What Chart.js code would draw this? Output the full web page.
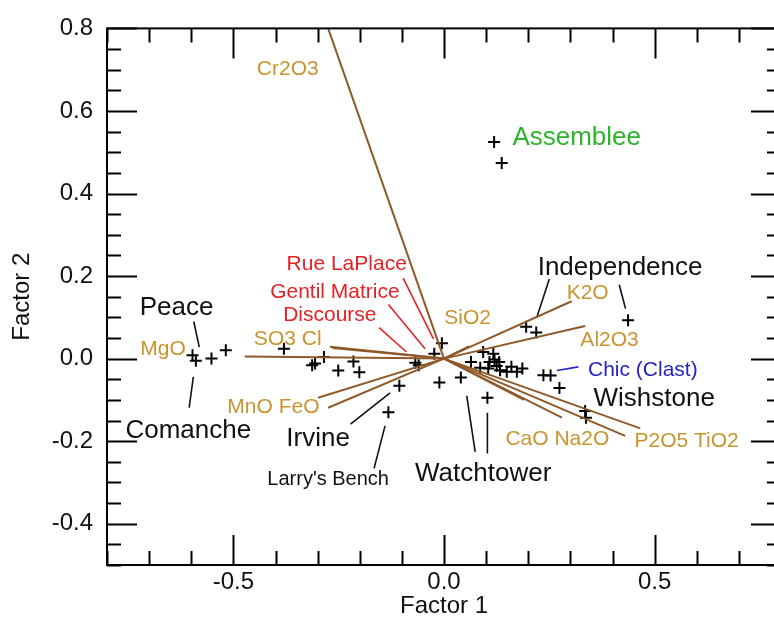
<!DOCTYPE html>
<html>
<head>
<meta charset="utf-8">
<script src="https://cdn.jsdelivr.net/npm/chart.js@4.4.1/dist/chart.umd.min.js"></script>
<style>
  html, body { margin: 0; padding: 0; background: #fff; overflow: hidden; }
  #wrap { width: 800px; height: 622px; }
</style>
</head>
<body>
<div id="wrap"><canvas id="biplot" width="800" height="622"></canvas></div>
<script>
// sample scores (Factor 1, Factor 2)
const sampleX = [-0.597, -0.589, -0.552, -0.518, -0.380, -0.313, -0.306, -0.285, -0.251, -0.215,
  -0.201, -0.068, -0.060, -0.106, -0.132, -0.005, -0.023, -0.011, 0.040, 0.064,
  0.093, 0.117, 0.108, 0.131, 0.086, 0.105, 0.133, 0.149, 0.173, 0.186,
  0.120, 0.125, 0.160, 0.103, 0.236, 0.253, 0.274, 0.335, 0.337, 0.195,
  0.219, 0.437, 0.119, 0.137];
const sampleY = [0.008, -0.005, 0.000, 0.020, 0.024, -0.016, -0.012, 0.004, -0.029, -0.007,
  -0.033, -0.010, -0.016, -0.066, -0.130, 0.037, 0.012, -0.058, -0.046, -0.008,
  0.016, 0.012, -0.008, -0.008, -0.022, -0.024, -0.028, -0.032, -0.032, -0.024,
  -0.002, -0.018, -0.020, -0.095, -0.040, -0.041, -0.071, -0.127, -0.143, 0.077,
  0.063, 0.093, 0.525, 0.474];

// oxide loadings
const oxides   = ['Cr2O3', 'MgO', 'SO3', 'Cl', 'MnO', 'FeO', 'SiO2', 'K2O', 'Al2O3', 'CaO', 'Na2O', 'P2O5', 'TiO2'];
const loadingX = [-0.275, -0.473, -0.271, -0.265, -0.299, -0.275, 0.060, 0.303, 0.335, 0.190, 0.280, 0.430, 0.466];
const loadingY = [0.800, 0.005, 0.029, 0.026, -0.095, -0.119, 0.030, 0.139, 0.079, -0.100, -0.143, -0.187, -0.169];

// tick values
const xMajorTicks = [-0.5, 0.0, 0.5];
const yMajorTicks = [-0.4, -0.2, 0.0, 0.2, 0.4, 0.6, 0.8];

const GOLD = '#c8942e', RED = '#e42226', GREEN = '#2cb52c', BLUE = '#2424c4', BLACK = '#111';
const VEC = '#8f5a2a';
const FONT = "'Liberation Sans', Arial, Helvetica, sans-serif";

// leader lines from labels to their samples
const leaders = [
  { c: BLACK, p: [[-0.594, 0.090], [-0.581, 0.028]] },   // Peace
  { c: BLACK, p: [[-0.595, -0.044], [-0.605, -0.119]] }, // Comanche
  { c: BLACK, p: [[-0.128, -0.083], [-0.222, -0.159]] }, // Irvine
  { c: BLACK, p: [[-0.140, -0.163], [-0.166, -0.266]] }, // Larry's Bench
  { c: BLACK, p: [[0.054, -0.090], [0.074, -0.226]] },   // Watchtower
  { c: BLACK, p: [[0.103, -0.131], [0.103, -0.230]] },
  { c: BLACK, p: [[0.250, 0.193], [0.220, 0.099]] },     // Independence
  { c: BLACK, p: [[0.416, 0.179], [0.431, 0.121]] },
  { c: BLUE,  p: [[0.268, -0.029], [0.319, -0.020]] },   // Chic
  { c: RED,   p: [[-0.097, 0.195], [-0.025, 0.048]] },   // Rue LaPlace
  { c: RED,   p: [[-0.132, 0.131], [-0.045, 0.024]] },   // Gentil Matrice
  { c: RED,   p: [[-0.154, 0.075], [-0.089, 0.016]] }    // Discourse
];

const labels = [
  { t: 'Cr2O3', x: -0.371, y: 0.702, c: GOLD, s: 21 },
  { t: 'Assemblee', x: 0.315, y: 0.534, c: GREEN, s: 26 },
  { t: 'Independence', x: 0.418, y: 0.220, c: BLACK, s: 26 },
  { t: 'K2O', x: 0.341, y: 0.159, c: GOLD, s: 21 },
  { t: 'Al2O3', x: 0.393, y: 0.045, c: GOLD, s: 21 },
  { t: 'SiO2', x: 0.056, y: 0.099, c: GOLD, s: 21 },
  { t: 'Chic (Clast)', x: 0.472, y: -0.028, c: BLUE, s: 21 },
  { t: 'Wishstone', x: 0.499, y: -0.098, c: BLACK, s: 26 },
  { t: 'P2O5 TiO2', x: 0.576, y: -0.201, c: GOLD, s: 21 },
  { t: 'CaO Na2O', x: 0.269, y: -0.195, c: GOLD, s: 21 },
  { t: 'Watchtower', x: 0.093, y: -0.278, c: BLACK, s: 26 },
  { t: "Larry's Bench", x: -0.275, y: -0.294, c: BLACK, s: 20 },
  { t: 'Irvine', x: -0.299, y: -0.195, c: BLACK, s: 26 },
  { t: 'Comanche', x: -0.607, y: -0.176, c: BLACK, s: 26 },
  { t: 'Peace', x: -0.635, y: 0.123, c: BLACK, s: 26 },
  { t: 'MgO', x: -0.667, y: 0.024, c: GOLD, s: 21 },
  { t: 'SO3 Cl', x: -0.371, y: 0.048, c: GOLD, s: 21 },
  { t: 'MnO FeO', x: -0.405, y: -0.117, c: GOLD, s: 21 },
  { t: 'Rue LaPlace', x: -0.231, y: 0.228, c: RED, s: 21 },
  { t: 'Gentil Matrice', x: -0.259, y: 0.161, c: RED, s: 21 },
  { t: 'Discourse', x: -0.271, y: 0.105, c: RED, s: 21 }
];

const isMajor = (v, list) => list.some(m => Math.abs(m - v) < 1e-6);
const fmt = v => { const r = Math.round(v * 100) / 100; return (r === 0 ? 0 : r).toFixed(1); };

const datasets = [];
oxides.forEach((name, i) => {
  datasets.push({
    label: name,
    data: [{ x: 0, y: 0 }, { x: loadingX[i], y: loadingY[i] }],
    showLine: true, borderColor: VEC, borderWidth: 2, pointRadius: 0, fill: false
  });
});
leaders.forEach(l => {
  datasets.push({
    data: l.p.map(q => ({ x: q[0], y: q[1] })),
    showLine: true, borderColor: l.c, borderWidth: 1.6, pointRadius: 0, fill: false
  });
});
datasets.push({
  label: 'samples',
  data: sampleX.map((x, i) => ({ x: x, y: sampleY[i] })),
  pointStyle: 'cross', pointRadius: 6, borderColor: '#000', borderWidth: 2, showLine: false
});

const framePlugin = {
  id: 'frame',
  afterDatasetsDraw(chart) {
    const { ctx, chartArea: a, scales: { x, y } } = chart;
    ctx.save();
    // text labels
    labels.forEach(l => {
      ctx.font = l.s + 'px ' + FONT;
      ctx.fillStyle = l.c;
      ctx.textAlign = 'center';
      ctx.textBaseline = 'middle';
      ctx.fillText(l.t, x.getPixelForValue(l.x), y.getPixelForValue(l.y));
    });
    // frame and inward ticks on all four sides
    ctx.strokeStyle = '#000';
    ctx.lineWidth = 2;
    ctx.strokeRect(a.left, a.top, a.right - a.left, a.bottom - a.top);
    ctx.beginPath();
    x.ticks.forEach(t => {
      const px = Math.round(x.getPixelForValue(t.value)) + 0.5;
      const len = isMajor(t.value, xMajorTicks) ? 30 : 14;
      ctx.moveTo(px, a.bottom); ctx.lineTo(px, a.bottom - len);
      ctx.moveTo(px, a.top); ctx.lineTo(px, a.top + len);
    });
    y.ticks.forEach(t => {
      const py = Math.round(y.getPixelForValue(t.value)) + 0.5;
      const len = isMajor(t.value, yMajorTicks) ? 30 : 14;
      ctx.moveTo(a.left, py); ctx.lineTo(a.left + len, py);
      ctx.moveTo(a.right, py); ctx.lineTo(a.right - len, py);
    });
    ctx.stroke();
    ctx.restore();
  }
};

new Chart(document.getElementById('biplot').getContext('2d'), {
  type: 'scatter',
  data: { datasets: datasets },
  options: {
    responsive: false,
    animation: false,
    layout: { padding: { top: 19, right: 19, left: 0, bottom: 0 } },
    plugins: { legend: { display: false }, tooltip: { enabled: false } },
    scales: {
      x: {
        type: 'linear', min: -0.8, max: 0.8,
        grid: { display: false, drawTicks: false },
        border: { display: false },
        ticks: {
          stepSize: 0.1, autoSkip: false, maxRotation: 0, padding: 3,
          color: '#111', font: { family: FONT, size: 24 },
          callback: v => isMajor(v, xMajorTicks) ? fmt(v) : ''
        },
        title: { display: true, text: 'Factor 1', color: '#111', font: { family: FONT, size: 24 }, padding: { top: 0, bottom: 1 } },
        afterFit: s => { s.height = 57; }
      },
      y: {
        type: 'linear', min: -0.5, max: 0.8,
        grid: { display: false, drawTicks: false },
        border: { display: false },
        ticks: {
          stepSize: 0.05, autoSkip: false, padding: 14,
          color: '#111', font: { family: FONT, size: 24 },
          callback: v => isMajor(v, yMajorTicks) ? fmt(v) : ''
        },
        title: { display: true, text: 'Factor 2', color: '#111', font: { family: FONT, size: 24 }, padding: { top: 8, bottom: 0 } },
        afterFit: s => { s.width = 107; }
      }
    }
  },
  plugins: [framePlugin]
});
</script>
</body>
</html>
